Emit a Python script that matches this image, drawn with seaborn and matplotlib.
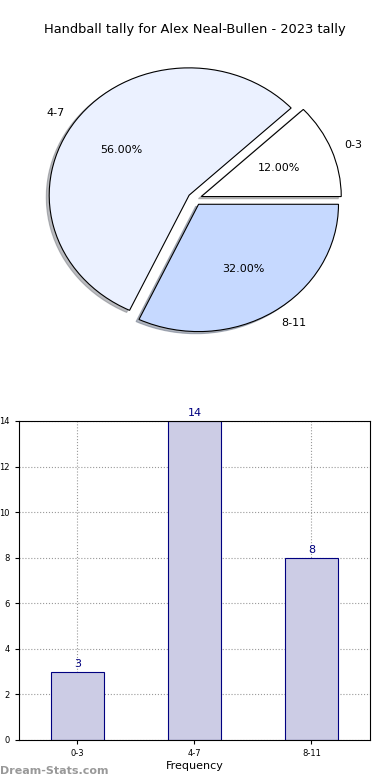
import matplotlib
matplotlib.use("Agg")
import matplotlib.pyplot as plt
import seaborn as sns

# =========================================
# DATA
# =========================================
categories = ["0-3", "4-7", "8-11"]
counts = [3, 14, 8]
pie_colors = ["#FFFFFF", "#EBF1FF", "#C6D9FF"]
y_ticks = [0, 2, 4, 6, 8, 10, 12, 14]

title = "Handball tally for Alex Neal-Bullen - 2023 tally"

# =========================================
# FIGURE
# =========================================
sns.set_style("white")
plt.rcParams['font.family'] = ['DejaVu Sans']
plt.rcParams.update({"text.color": "black", "axes.labelcolor": "black",
                     "xtick.color": "black", "ytick.color": "black"})

fig = plt.figure(figsize=(3.9, 7.8), dpi=100)

# pie (top)
ax1 = fig.add_axes([0.051, 0.541, 0.897, 0.408])
wedges, texts, autotexts = ax1.pie(
    counts, labels=categories, colors=pie_colors, autopct="%.2f%%",
    explode=[0.05, 0.05, 0.05],
    shadow={"ox": -0.015, "oy": -0.012, "shade": 0.5},
    startangle=0, counterclock=True, pctdistance=0.6, labeldistance=1.1,
    wedgeprops={"edgecolor": "black", "linewidth": 0.8},
    textprops={"fontsize": 8, "color": "black"})
ax1.set_aspect("auto")
ax1.set_xlim(-1.25, 1.25)
ax1.set_ylim(-1.25, 1.25)

fig.text(0.5, 1 - 30 / 780, title, ha="center", va="center", fontsize=9.4)

# bars (bottom)
ax2 = fig.add_axes([0.0487, 0.0513, 0.9, 0.409])
sns.barplot(x=categories, y=counts, ax=ax2, color="#CCCCE5", saturation=1,
            width=0.45, edgecolor="navy", linewidth=0.8)
ax2.set_xlim(-0.5, 2.5)
ax2.set_ylim(0, 14)
ax2.set_yticks(y_ticks)
ax2.grid(True, linestyle=":", color="#999999", linewidth=0.8)
ax2.set_axisbelow(True)
for s in ax2.spines.values():
    s.set_color("black")
    s.set_linewidth(0.8)
ax2.tick_params(labelsize=6, length=3, direction="out", left=True, bottom=True)
ax2.set_xlabel("Frequency", fontsize=8, labelpad=2)
ax2.set_ylabel("Number of Games", fontsize=8, labelpad=8)

for i, v in enumerate(counts):
    ax2.text(i, v + 0.12, str(v), ha="center", va="bottom", color="navy", fontsize=8)

fig.text(0.0, 1 - 771 / 780, "Dream-Stats.com", ha="left", va="center",
         fontsize=8, color="#999999", fontweight="bold")

fig.savefig("out.png", dpi=100)
